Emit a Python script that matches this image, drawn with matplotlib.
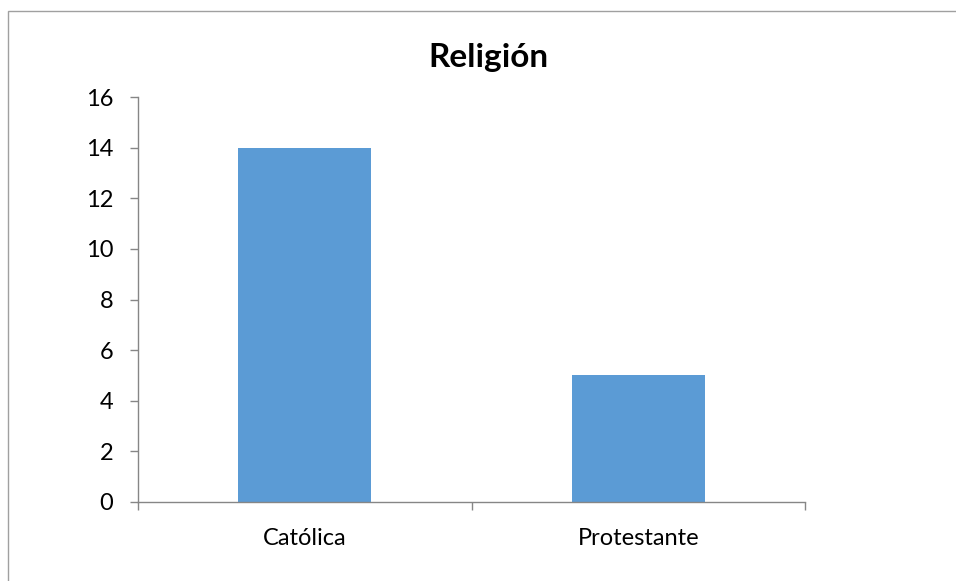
import matplotlib
matplotlib.use("Agg")
import matplotlib.pyplot as plt
from matplotlib.patches import Rectangle

categories = ["Católica", "Protestante"]
values = [14, 5]
yticks = [0, 2, 4, 6, 8, 10, 12, 14, 16]
title = "Religión"

plt.rcParams['font.family'] = ['Lato', 'DejaVu Sans']

W, H = 956, 581
fig = plt.figure(figsize=(W/100, H/100), dpi=100)
ax = fig.add_axes([138/W, (H-502)/H, (805-138)/W, (502-97)/H])

x = list(range(len(categories)))
ax.bar(x, values, width=0.4, color="#5B9BD5", zorder=2)
ax.set_xlim(-0.5, len(categories) - 0.5)
ax.set_ylim(0, 16)
ax.set_yticks(yticks)
ax.set_yticklabels([str(t) for t in yticks])
ax.set_xticks(x)
ax.set_xticklabels(categories)
ax.set_xticks([-0.5, 0.5, 1.5], minor=True)

gray = "#868686"
for s in ["top", "right"]:
    ax.spines[s].set_visible(False)
for s in ["left", "bottom"]:
    ax.spines[s].set_color(gray)
    ax.spines[s].set_linewidth(1.0)

ax.tick_params(axis="y", direction="out", length=5.8, width=1, color=gray,
               labelsize=17, pad=12, labelcolor="black")
ax.tick_params(axis="x", which="major", length=0, labelsize=17, pad=19, labelcolor="black")
ax.tick_params(axis="x", which="minor", direction="out", length=5.5, width=1, color=gray)

fig.text(488/W, 1 - 58/H, title, ha="center", va="center", fontsize=24, fontweight="bold")

fig.patches.append(Rectangle((8/W, -0.1), 1.2, 1 - 11/H + 0.1, transform=fig.transFigure,
                             fill=False, edgecolor="#A0A0A0", linewidth=1.0))

fig.savefig("out.png", dpi=100)
